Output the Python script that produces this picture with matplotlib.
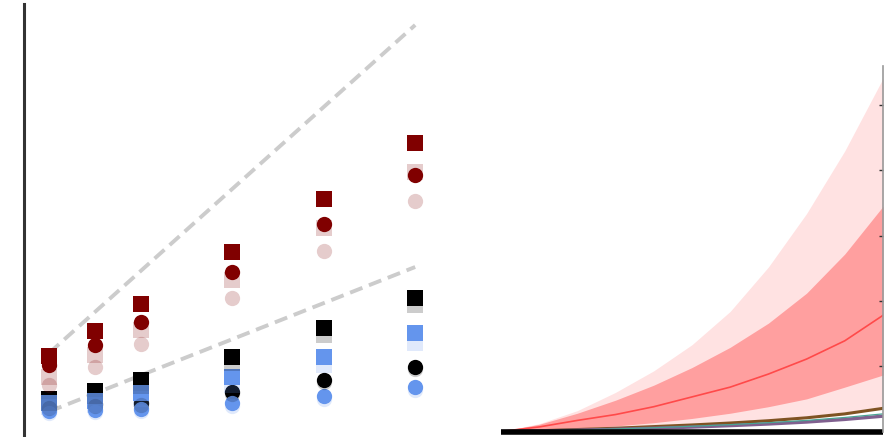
import numpy as np
import matplotlib
matplotlib.use("Agg")
import matplotlib.pyplot as plt

# left panel: measured values per size, solid = run A, faded = run B
sizes = [1, 2, 3, 5, 7, 9]
red_sq = [8.1, 10.6, 13.3, 18.5, 23.8, 29.4]
red_sq_b = [6.0, 8.2, 10.7, 15.7, 20.9, 26.5]
red_ci = [7.2, 9.2, 11.5, 16.5, 21.3, 26.2]
red_ci_b = [5.2, 7.0, 9.3, 13.9, 18.6, 23.6]
blk_sq = [3.8, 4.6, 5.7, 8.0, 10.9, 13.9]
blk_sq_b = [3.4, 4.1, 5.1, 7.4, 10.2, 13.2]
blu_sq = [3.4, 3.6, 4.4, 6.0, 8.0, 10.4]
blu_sq_b = [3.0, 3.2, 3.8, 5.2, 7.2, 9.4]
blk_ci = [3.1, 3.3, 3.4, 4.5, 5.7, 7.0]
blk_ci_b = [2.9, 3.1, 3.2, 4.3, 5.5, 6.8]
blu_ci = [2.6, 2.7, 2.8, 3.4, 4.1, 5.0]
blu_ci_b = [2.4, 2.5, 2.6, 3.1, 3.8, 4.7]

# reference scaling lines
ref_x = [1, 9]
ref_hi = [8.4, 41.2]
ref_lo = [2.55, 17.0]

# right panel: growth curves with spread bands
t = [0, 1, 2, 3, 4, 5, 6, 7, 8, 9, 10]
band_hi = [0, 0.12, 0.32, 0.60, 0.93, 1.33, 1.84, 2.52, 3.34, 4.30, 5.41]
inner_hi = [0, 0.11, 0.28, 0.48, 0.71, 0.98, 1.29, 1.66, 2.12, 2.72, 3.45]
mean = [0, 0.07, 0.17, 0.26, 0.38, 0.53, 0.68, 0.88, 1.11, 1.39, 1.78]
inner_lo = [0, 0.02, 0.05, 0.085, 0.135, 0.2, 0.28, 0.38, 0.5, 0.68, 0.865]
band_lo = [0, 0.015, 0.035, 0.058, 0.085, 0.113, 0.145, 0.185, 0.235, 0.3, 0.385]
brown = [0, 0.012, 0.03, 0.05, 0.075, 0.1, 0.13, 0.165, 0.21, 0.27, 0.355]
teal = [0, 0.01, 0.024, 0.04, 0.058, 0.08, 0.105, 0.135, 0.17, 0.215, 0.27]
purple = [0, 0.008, 0.02, 0.034, 0.05, 0.068, 0.09, 0.115, 0.145, 0.185, 0.235]
base = [0] * len(t)

fig = plt.figure(figsize=(8.89, 4.37), dpi=100)

ax = fig.add_axes([24 / 889, 0.0, 425.5 / 889, 433 / 437])
for ref in (ref_hi, ref_lo):
    ax.plot(ref_x, ref, color="#cccccc", lw=2.8, dashes=(3.4, 1.8), zorder=1)

ms = 11
solid = [(red_sq, "s", "#800000"), (red_ci, "o", "#800000"),
         (blk_sq, "s", "black"), (blk_ci, "o", "black"),
         (blu_sq, "s", "cornflowerblue"), (blu_ci, "o", "cornflowerblue")]
faded = [(red_sq_b, "s", "#800000"), (red_ci_b, "o", "#800000"),
         (blk_sq_b, "s", "black"), (blk_ci_b, "o", "black"),
         (blu_sq_b, "s", "cornflowerblue"), (blu_ci_b, "o", "cornflowerblue")]
for vals, m, c in solid:
    ax.plot(sizes, vals, ls="none", marker=m, ms=ms, mew=0, color=c, zorder=2)
for vals, m, c in faded:
    ax.plot(sizes, vals, ls="none", marker=m, ms=ms, mew=0, color=c, alpha=0.2, zorder=3)

ax.set_xlim(0.45, 9.75)
ax.set_ylim(0, 43.3)
for s in ["top", "right", "bottom"]:
    ax.spines[s].set_visible(False)
ax.spines["left"].set_color("#333333")
ax.spines["left"].set_linewidth(2.2)
ax.set_xticks([])
ax.set_yticks([])

ax2 = fig.add_axes([501 / 889, 5.5 / 437, 382 / 889, 365.5 / 437])
ax2.fill_between(t, band_lo, band_hi, color="#ffe2e2", lw=0)
ax2.fill_between(t, inner_lo, inner_hi, color="#ff9f9f", lw=0)
ax2.plot(t, mean, color="#ff4a4a", lw=1.2)
ax2.plot(t, brown, color="#7f5222", lw=2.2)
ax2.plot(t, purple, color="#80608f", lw=2.4)
ax2.plot(t, teal, color="#4aa393", lw=0.9)
ax2.plot(t, base, color="black", lw=4, solid_capstyle="butt", clip_on=False)

ax2.set_xlim(0, 10)
ax2.set_ylim(0, 5.6)
for s in ["top", "left", "bottom"]:
    ax2.spines[s].set_visible(False)
ax2.spines["right"].set_color("#999999")
ax2.spines["right"].set_linewidth(1.2)
ax2.yaxis.tick_right()
ax2.set_yticks([1, 2, 3, 4, 5])
ax2.tick_params(axis="y", direction="in", length=3, width=1, color="#333333",
                labelright=False)
ax2.set_xticks([])

fig.savefig("out.png", dpi=100)
